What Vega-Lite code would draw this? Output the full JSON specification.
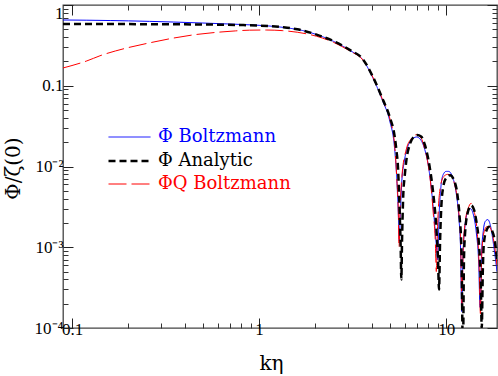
{
  "$schema": "https://vega.github.io/schema/vega-lite/v6.json",
  "width": 434,
  "height": 323,
  "autosize": {"type": "none"},
  "padding": {"left": 63, "top": 5, "right": 1, "bottom": 48},
  "config": {
    "view": {"stroke": "#444", "strokeWidth": 1.3},
    "font": "Liberation Serif",
    "axis": {"domain": false, "grid": false, "labelFont": "Liberation Serif", "titleFont": "DejaVu Serif", "titleFontWeight": "normal", "tickColor": "#333", "labelColor": "#000", "titleColor": "#000"},
    "legend": {"orient": "none", "legendX": 54.5, "legendY": 121, "title": null, "padding": 0,
      "symbolType": "M-2,0L2,0", "symbolSize": 441, "rowPadding": 3,
      "labelFont": "DejaVu Serif", "labelFontSize": 18, "labelOffset": 16.5}
  },
  "data": {"values": [
    {"series": "Φ Boltzmann", "k": 0.0895, "phi": 0.652},
    {"series": "Φ Boltzmann", "k": 0.12, "phi": 0.648},
    {"series": "Φ Boltzmann", "k": 0.16, "phi": 0.642},
    {"series": "Φ Boltzmann", "k": 0.2, "phi": 0.636},
    {"series": "Φ Boltzmann", "k": 0.26, "phi": 0.627},
    {"series": "Φ Boltzmann", "k": 0.35, "phi": 0.615},
    {"series": "Φ Boltzmann", "k": 0.5, "phi": 0.598},
    {"series": "Φ Boltzmann", "k": 0.65, "phi": 0.585},
    {"series": "Φ Boltzmann", "k": 0.8, "phi": 0.574},
    {"series": "Φ Boltzmann", "k": 1.0, "phi": 0.56},
    {"series": "Φ Boltzmann", "k": 1.2, "phi": 0.543},
    {"series": "Φ Boltzmann", "k": 1.4, "phi": 0.522},
    {"series": "Φ Boltzmann", "k": 1.7, "phi": 0.484},
    {"series": "Φ Boltzmann", "k": 2.03, "phi": 0.43},
    {"series": "Φ Boltzmann", "k": 2.5, "phi": 0.355},
    {"series": "Φ Boltzmann", "k": 3.05, "phi": 0.275},
    {"series": "Φ Boltzmann", "k": 3.61, "phi": 0.205},
    {"series": "Φ Boltzmann", "k": 4.06, "phi": 0.125},
    {"series": "Φ Boltzmann", "k": 4.6, "phi": 0.063},
    {"series": "Φ Boltzmann", "k": 4.99, "phi": 0.037},
    {"series": "Φ Boltzmann", "k": 5.31, "phi": 0.016},
    {"series": "Φ Boltzmann", "k": 5.45, "phi": 0.0068},
    {"series": "Φ Boltzmann", "k": 5.55, "phi": 0.0026},
    {"series": "Φ Boltzmann", "k": 5.62, "phi": 0.0012},
    {"series": "Φ Boltzmann", "k": 5.69, "phi": 0.0026},
    {"series": "Φ Boltzmann", "k": 5.8, "phi": 0.0068},
    {"series": "Φ Boltzmann", "k": 5.95, "phi": 0.011},
    {"series": "Φ Boltzmann", "k": 6.13, "phi": 0.0155},
    {"series": "Φ Boltzmann", "k": 6.5, "phi": 0.021},
    {"series": "Φ Boltzmann", "k": 6.95, "phi": 0.0232},
    {"series": "Φ Boltzmann", "k": 7.35, "phi": 0.021},
    {"series": "Φ Boltzmann", "k": 7.68, "phi": 0.0163},
    {"series": "Φ Boltzmann", "k": 8.0, "phi": 0.0108},
    {"series": "Φ Boltzmann", "k": 8.3, "phi": 0.0058},
    {"series": "Φ Boltzmann", "k": 8.6, "phi": 0.0025},
    {"series": "Φ Boltzmann", "k": 8.85, "phi": 0.0011},
    {"series": "Φ Boltzmann", "k": 9.02, "phi": 0.0007},
    {"series": "Φ Boltzmann", "k": 9.15, "phi": 0.0022},
    {"series": "Φ Boltzmann", "k": 9.35, "phi": 0.0052},
    {"series": "Φ Boltzmann", "k": 9.61, "phi": 0.0078},
    {"series": "Φ Boltzmann", "k": 10.0, "phi": 0.0087},
    {"series": "Φ Boltzmann", "k": 10.3, "phi": 0.0087},
    {"series": "Φ Boltzmann", "k": 10.8, "phi": 0.0075},
    {"series": "Φ Boltzmann", "k": 11.3, "phi": 0.0048},
    {"series": "Φ Boltzmann", "k": 11.7, "phi": 0.0023},
    {"series": "Φ Boltzmann", "k": 11.95, "phi": 0.0009},
    {"series": "Φ Boltzmann", "k": 12.12, "phi": 0.00016},
    {"series": "Φ Boltzmann", "k": 12.3, "phi": 0.0008},
    {"series": "Φ Boltzmann", "k": 12.6, "phi": 0.0018},
    {"series": "Φ Boltzmann", "k": 13.0, "phi": 0.0027},
    {"series": "Φ Boltzmann", "k": 13.47, "phi": 0.003},
    {"series": "Φ Boltzmann", "k": 14.0, "phi": 0.0025},
    {"series": "Φ Boltzmann", "k": 14.5, "phi": 0.0015},
    {"series": "Φ Boltzmann", "k": 14.9, "phi": 0.0007},
    {"series": "Φ Boltzmann", "k": 15.2, "phi": 0.00018},
    {"series": "Φ Boltzmann", "k": 15.45, "phi": 0.0008},
    {"series": "Φ Boltzmann", "k": 15.8, "phi": 0.0016},
    {"series": "Φ Boltzmann", "k": 16.2, "phi": 0.0021},
    {"series": "Φ Boltzmann", "k": 16.7, "phi": 0.0022},
    {"series": "Φ Boltzmann", "k": 17.3, "phi": 0.0018},
    {"series": "Φ Boltzmann", "k": 17.9, "phi": 0.0011},
    {"series": "Φ Boltzmann", "k": 18.7, "phi": 0.0005},

    {"series": "ΦQ Boltzmann", "k": 0.0895, "phi": 0.166},
    {"series": "ΦQ Boltzmann", "k": 0.1, "phi": 0.178},
    {"series": "ΦQ Boltzmann", "k": 0.12, "phi": 0.203},
    {"series": "ΦQ Boltzmann", "k": 0.141, "phi": 0.235},
    {"series": "ΦQ Boltzmann", "k": 0.192, "phi": 0.29},
    {"series": "ΦQ Boltzmann", "k": 0.26, "phi": 0.34},
    {"series": "ΦQ Boltzmann", "k": 0.35, "phi": 0.39},
    {"series": "ΦQ Boltzmann", "k": 0.45, "phi": 0.428},
    {"series": "ΦQ Boltzmann", "k": 0.59, "phi": 0.458},
    {"series": "ΦQ Boltzmann", "k": 0.75, "phi": 0.478},
    {"series": "ΦQ Boltzmann", "k": 0.89, "phi": 0.488},
    {"series": "ΦQ Boltzmann", "k": 1.1, "phi": 0.49},
    {"series": "ΦQ Boltzmann", "k": 1.34, "phi": 0.481},
    {"series": "ΦQ Boltzmann", "k": 1.6, "phi": 0.46},
    {"series": "ΦQ Boltzmann", "k": 2.03, "phi": 0.41},
    {"series": "ΦQ Boltzmann", "k": 2.5, "phi": 0.345},
    {"series": "ΦQ Boltzmann", "k": 3.05, "phi": 0.27},
    {"series": "ΦQ Boltzmann", "k": 3.61, "phi": 0.205},
    {"series": "ΦQ Boltzmann", "k": 4.06, "phi": 0.127},
    {"series": "ΦQ Boltzmann", "k": 4.6, "phi": 0.065},
    {"series": "ΦQ Boltzmann", "k": 4.99, "phi": 0.04},
    {"series": "ΦQ Boltzmann", "k": 5.31, "phi": 0.018},
    {"series": "ΦQ Boltzmann", "k": 5.45, "phi": 0.007},
    {"series": "ΦQ Boltzmann", "k": 5.55, "phi": 0.0028},
    {"series": "ΦQ Boltzmann", "k": 5.6, "phi": 0.001},
    {"series": "ΦQ Boltzmann", "k": 5.66, "phi": 0.0025},
    {"series": "ΦQ Boltzmann", "k": 5.8, "phi": 0.0075},
    {"series": "ΦQ Boltzmann", "k": 6.13, "phi": 0.0165},
    {"series": "ΦQ Boltzmann", "k": 6.5, "phi": 0.022},
    {"series": "ΦQ Boltzmann", "k": 6.95, "phi": 0.0248},
    {"series": "ΦQ Boltzmann", "k": 7.35, "phi": 0.0225},
    {"series": "ΦQ Boltzmann", "k": 7.68, "phi": 0.0165},
    {"series": "ΦQ Boltzmann", "k": 8.0, "phi": 0.0108},
    {"series": "ΦQ Boltzmann", "k": 8.3, "phi": 0.0056},
    {"series": "ΦQ Boltzmann", "k": 8.55, "phi": 0.0025},
    {"series": "ΦQ Boltzmann", "k": 8.75, "phi": 0.0012},
    {"series": "ΦQ Boltzmann", "k": 8.86, "phi": 0.0005},
    {"series": "ΦQ Boltzmann", "k": 9.0, "phi": 0.0018},
    {"series": "ΦQ Boltzmann", "k": 9.3, "phi": 0.0055},
    {"series": "ΦQ Boltzmann", "k": 9.7, "phi": 0.0075},
    {"series": "ΦQ Boltzmann", "k": 10.2, "phi": 0.008},
    {"series": "ΦQ Boltzmann", "k": 10.6, "phi": 0.0078},
    {"series": "ΦQ Boltzmann", "k": 11.1, "phi": 0.006},
    {"series": "ΦQ Boltzmann", "k": 11.6, "phi": 0.0032},
    {"series": "ΦQ Boltzmann", "k": 11.95, "phi": 0.0012},
    {"series": "ΦQ Boltzmann", "k": 12.15, "phi": 0.0002},
    {"series": "ΦQ Boltzmann", "k": 12.35, "phi": 0.001},
    {"series": "ΦQ Boltzmann", "k": 12.7, "phi": 0.0022},
    {"series": "ΦQ Boltzmann", "k": 13.1, "phi": 0.003},
    {"series": "ΦQ Boltzmann", "k": 13.6, "phi": 0.0035},
    {"series": "ΦQ Boltzmann", "k": 14.1, "phi": 0.0028},
    {"series": "ΦQ Boltzmann", "k": 14.6, "phi": 0.0017},
    {"series": "ΦQ Boltzmann", "k": 15.0, "phi": 0.0006},
    {"series": "ΦQ Boltzmann", "k": 15.25, "phi": 0.00015},
    {"series": "ΦQ Boltzmann", "k": 15.5, "phi": 0.0008},
    {"series": "ΦQ Boltzmann", "k": 15.9, "phi": 0.0015},
    {"series": "ΦQ Boltzmann", "k": 16.5, "phi": 0.0018},
    {"series": "ΦQ Boltzmann", "k": 17.0, "phi": 0.0018},
    {"series": "ΦQ Boltzmann", "k": 17.6, "phi": 0.0015},
    {"series": "ΦQ Boltzmann", "k": 18.2, "phi": 0.001},
    {"series": "ΦQ Boltzmann", "k": 18.7, "phi": 0.0006},

    {"series": "Φ Analytic", "k": 0.0895, "phi": 0.58},
    {"series": "Φ Analytic", "k": 0.15, "phi": 0.58},
    {"series": "Φ Analytic", "k": 0.26, "phi": 0.579},
    {"series": "Φ Analytic", "k": 0.4, "phi": 0.576},
    {"series": "Φ Analytic", "k": 0.6, "phi": 0.571},
    {"series": "Φ Analytic", "k": 0.8, "phi": 0.565},
    {"series": "Φ Analytic", "k": 1.0, "phi": 0.556},
    {"series": "Φ Analytic", "k": 1.34, "phi": 0.53},
    {"series": "Φ Analytic", "k": 1.6, "phi": 0.5},
    {"series": "Φ Analytic", "k": 2.03, "phi": 0.43},
    {"series": "Φ Analytic", "k": 2.5, "phi": 0.357},
    {"series": "Φ Analytic", "k": 3.05, "phi": 0.278},
    {"series": "Φ Analytic", "k": 3.61, "phi": 0.209},
    {"series": "Φ Analytic", "k": 4.06, "phi": 0.129},
    {"series": "Φ Analytic", "k": 4.6, "phi": 0.0665},
    {"series": "Φ Analytic", "k": 4.99, "phi": 0.0413},
    {"series": "Φ Analytic", "k": 5.31, "phi": 0.0233},
    {"series": "Φ Analytic", "k": 5.42, "phi": 0.016},
    {"series": "Φ Analytic", "k": 5.53, "phi": 0.0095},
    {"series": "Φ Analytic", "k": 5.64, "phi": 0.0028},
    {"series": "Φ Analytic", "k": 5.71, "phi": 0.0011},
    {"series": "Φ Analytic", "k": 5.76, "phi": 0.0004},
    {"series": "Φ Analytic", "k": 5.81, "phi": 0.0012},
    {"series": "Φ Analytic", "k": 5.9, "phi": 0.0045},
    {"series": "Φ Analytic", "k": 6.0, "phi": 0.0075},
    {"series": "Φ Analytic", "k": 6.13, "phi": 0.012},
    {"series": "Φ Analytic", "k": 6.38, "phi": 0.0185},
    {"series": "Φ Analytic", "k": 6.7, "phi": 0.0232},
    {"series": "Φ Analytic", "k": 7.0, "phi": 0.0245},
    {"series": "Φ Analytic", "k": 7.35, "phi": 0.0235},
    {"series": "Φ Analytic", "k": 7.7, "phi": 0.0185},
    {"series": "Φ Analytic", "k": 8.0, "phi": 0.0128},
    {"series": "Φ Analytic", "k": 8.3, "phi": 0.0077},
    {"series": "Φ Analytic", "k": 8.6, "phi": 0.0039},
    {"series": "Φ Analytic", "k": 8.9, "phi": 0.0015},
    {"series": "Φ Analytic", "k": 9.05, "phi": 0.0007},
    {"series": "Φ Analytic", "k": 9.16, "phi": 0.0003},
    {"series": "Φ Analytic", "k": 9.28, "phi": 0.0012},
    {"series": "Φ Analytic", "k": 9.43, "phi": 0.0033},
    {"series": "Φ Analytic", "k": 9.65, "phi": 0.0056},
    {"series": "Φ Analytic", "k": 10.0, "phi": 0.0072},
    {"series": "Φ Analytic", "k": 10.5, "phi": 0.0078},
    {"series": "Φ Analytic", "k": 11.0, "phi": 0.0068},
    {"series": "Φ Analytic", "k": 11.5, "phi": 0.0044},
    {"series": "Φ Analytic", "k": 11.8, "phi": 0.0024},
    {"series": "Φ Analytic", "k": 12.06, "phi": 0.001},
    {"series": "Φ Analytic", "k": 12.3, "phi": 0.00005},
    {"series": "Φ Analytic", "k": 12.45, "phi": 0.0007},
    {"series": "Φ Analytic", "k": 12.6, "phi": 0.0014},
    {"series": "Φ Analytic", "k": 13.0, "phi": 0.0026},
    {"series": "Φ Analytic", "k": 13.6, "phi": 0.0033},
    {"series": "Φ Analytic", "k": 14.1, "phi": 0.0029},
    {"series": "Φ Analytic", "k": 14.5, "phi": 0.0021},
    {"series": "Φ Analytic", "k": 14.97, "phi": 0.0011},
    {"series": "Φ Analytic", "k": 15.3, "phi": 0.0004},
    {"series": "Φ Analytic", "k": 15.5, "phi": 0.0001},
    {"series": "Φ Analytic", "k": 15.7, "phi": 0.0005},
    {"series": "Φ Analytic", "k": 15.9, "phi": 0.0011},
    {"series": "Φ Analytic", "k": 16.4, "phi": 0.0016},
    {"series": "Φ Analytic", "k": 17.0, "phi": 0.0018},
    {"series": "Φ Analytic", "k": 17.6, "phi": 0.0016},
    {"series": "Φ Analytic", "k": 18.2, "phi": 0.0012},
    {"series": "Φ Analytic", "k": 18.7, "phi": 0.0007}
  ]},
  "layer": [
    {
      "mark": {"type": "line", "clip": true, "interpolate": "monotone"},
      "encoding": {
        "x": {"field": "k", "type": "quantitative",
          "scale": {"type": "log", "domain": [0.0895, 18.7], "nice": false},
          "axis": {"orient": "bottom", "values": [0.1, 1, 10], "tickSize": -10, "tickColor": "#222",
            "labelExpr": "datum.value < 0.5 ? '0.1' : datum.value < 5 ? '1' : '10'",
            "labelFontSize": 17, "labelPadding": 3, "labelFlush": false,
            "title": "kη", "titleFontSize": 20, "titlePadding": 16, "titleX": 208}},
        "y": {"field": "phi", "type": "quantitative",
          "scale": {"type": "log", "domain": [0.0001, 1], "nice": false},
          "axis": {"orient": "left", "values": [0.0001, 0.001, 0.01, 0.1, 1], "tickSize": -10, "tickColor": "#222",
            "labelExpr": "datum.value > 0.5 ? '1' : datum.value > 0.05 ? '0.1' : datum.value > 0.005 ? '10⁻²' : datum.value > 0.0005 ? '10⁻³' : '10⁻⁴'",
            "labelFontSize": 17, "labelPadding": 10, "labelFlush": false,
            "labelBaseline": {"condition": {"test": "datum.value > 0.5", "value": "top"}, "value": "middle"},
            "title": "Φ/ζ(0)", "titleFontSize": 20, "titleX": -50, "titleY": 163, "titleBaseline": "middle", "titleAngle": -90}},
        "color": {"field": "series", "type": "nominal",
          "scale": {"domain": ["Φ Boltzmann", "Φ Analytic", "ΦQ Boltzmann"], "range": ["#0000ff", "#000000", "#ff0000"]},
          "legend": {"labelColor": {"expr": "datum.index == 1 ? '#000000' : datum.index == 0 ? '#0000ff' : '#ff0000'"}}},
        "strokeDash": {"field": "series", "type": "nominal",
          "scale": {"domain": ["Φ Boltzmann", "Φ Analytic", "ΦQ Boltzmann"], "range": [[1, 0], [7, 4], [18, 5]]},
          "legend": {"labelColor": {"expr": "datum.index == 1 ? '#000000' : datum.index == 0 ? '#0000ff' : '#ff0000'"}}},
        "strokeWidth": {"field": "series", "type": "nominal",
          "scale": {"type": "ordinal", "domain": ["Φ Boltzmann", "Φ Analytic", "ΦQ Boltzmann"], "range": [1, 2.5, 1]},
          "legend": {"labelColor": {"expr": "datum.index == 1 ? '#000000' : datum.index == 0 ? '#0000ff' : '#ff0000'"}}}
      }
    },
    {
      "mark": {"type": "point", "opacity": 0},
      "encoding": {
        "x": {"field": "k", "type": "quantitative",
          "axis": {"orient": "bottom", "values": [0.2, 0.3, 0.4, 0.5, 0.6, 0.7, 0.8, 0.9, 2, 3, 4, 5, 6, 7, 8, 9], "tickSize": -5, "labels": false, "title": null}},
        "y": {"field": "phi", "type": "quantitative",
          "axis": {"orient": "left", "values": [0.0002, 0.0003, 0.0004, 0.0005, 0.0006, 0.0007, 0.0008, 0.0009, 0.002, 0.003, 0.004, 0.005, 0.006, 0.007, 0.008, 0.009, 0.02, 0.03, 0.04, 0.05, 0.06, 0.07, 0.08, 0.09, 0.2, 0.3, 0.4, 0.5, 0.6, 0.7, 0.8, 0.9], "tickSize": -5, "labels": false, "title": null}}
      }
    },
    {
      "mark": {"type": "point", "opacity": 0},
      "encoding": {
        "x": {"field": "k", "type": "quantitative",
          "axis": {"orient": "top", "values": [0.1, 1, 10], "tickSize": -10, "tickColor": "#222", "labels": false, "title": null}},
        "y": {"field": "phi", "type": "quantitative",
          "axis": {"orient": "right", "values": [0.0001, 0.001, 0.01, 0.1, 1], "tickSize": -10, "tickColor": "#222", "labels": false, "title": null}}
      }
    },
    {
      "mark": {"type": "point", "opacity": 0},
      "encoding": {
        "x": {"field": "k", "type": "quantitative",
          "axis": {"orient": "top", "values": [0.2, 0.3, 0.4, 0.5, 0.6, 0.7, 0.8, 0.9, 2, 3, 4, 5, 6, 7, 8, 9], "tickSize": -5, "labels": false, "title": null}},
        "y": {"field": "phi", "type": "quantitative",
          "axis": {"orient": "right", "values": [0.0002, 0.0003, 0.0004, 0.0005, 0.0006, 0.0007, 0.0008, 0.0009, 0.002, 0.003, 0.004, 0.005, 0.006, 0.007, 0.008, 0.009, 0.02, 0.03, 0.04, 0.05, 0.06, 0.07, 0.08, 0.09, 0.2, 0.3, 0.4, 0.5, 0.6, 0.7, 0.8, 0.9], "tickSize": -5, "labels": false, "title": null}}
      }
    }
  ],
  "resolve": {"axis": {"x": "independent", "y": "independent"}}
}
